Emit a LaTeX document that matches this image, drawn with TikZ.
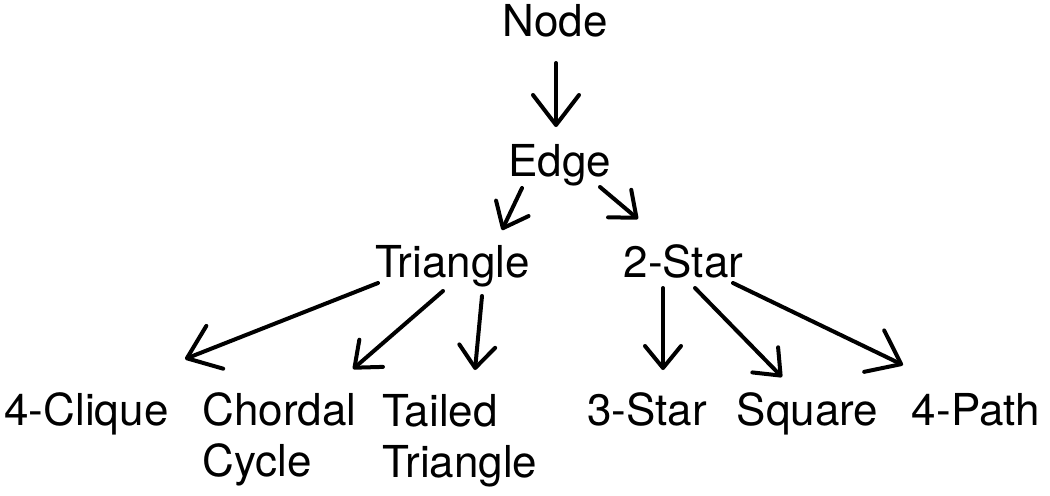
\documentclass[tikz,border=0pt]{standalone}
\usepackage{fontspec}
\setmainfont{TeX Gyre Heros}
\usetikzlibrary{arrows.meta}

\begin{document}
\begin{tikzpicture}[x=0.5pt,y=-0.5pt,
    every node/.style={inner sep=0pt,font=\fontsize{22}{25.5}\selectfont},
    lbl/.style={anchor=base},
    lblw/.style={anchor=base west,align=left},
    arr/.style={line width=2pt,line cap=round,line join=round,
      -{Straight Barb[length=11pt,width=18pt,round]}},
    bigarr/.style={arr,-{Straight Barb[length=15pt,width=23pt,round]}}]
      \useasboundingbox (0,0) rectangle (1050,495);
      \node[lbl] (node) at (555,36) {Node};
      \node[lbl] (edge) at (560,176) {Edge};
      \node[lbl] (tri) at (452.5,277) {Triangle};
      \node[lbl] (star2) at (683.5,277) {2-Star};
      \node[lbl] (clique) at (86.5,425) {4-Clique};
      % base of a two-line node is its last line
      \node[lblw] (chordal) at (202,476) {Chordal\\Cycle};
      \node[lblw] (tailed) at (382,477) {Tailed\\Triangle};
      \node[lbl] (star3) at (647,425) {3-Star};
      \node[lbl] (square) at (807.5,425) {Square};
      \node[lbl] (path4) at (976,425) {4-Path};
        \path[bigarr]
          ([shift={(1,27)}]node.base) edge ([shift={(-4,-49)}]edge.base);
        \path[arr]
          ([shift={(-38,12)}]edge.base) edge ([shift={(49.5,-47)}]tri.base)
          ([shift={(40,11)}]edge.base) edge ([shift={(-45.5,-58)}]star2.base)

          ([shift={(-9.5,14)}]tri.base) edge ([shift={(151,-107)}]chordal.base west)
          ([shift={(29.5,19)}]tri.base) edge ([shift={(93,-107)}]tailed.base west)

          ([shift={(-20.5,11)}]star2.base) edge ([shift={(16,-55)}]star3.base)
          ([shift={(11.5,11)}]star2.base) edge ([shift={(-25.5,-48)}]square.base);
        \path[bigarr]
          ([shift={(-74.5,6)}]tri.base) edge ([shift={(98.5,-66)}]clique.base)
          ([shift={(49.5,6)}]star2.base) edge ([shift={(-73,-60)}]path4.base);
    \end{tikzpicture}
\end{document}
